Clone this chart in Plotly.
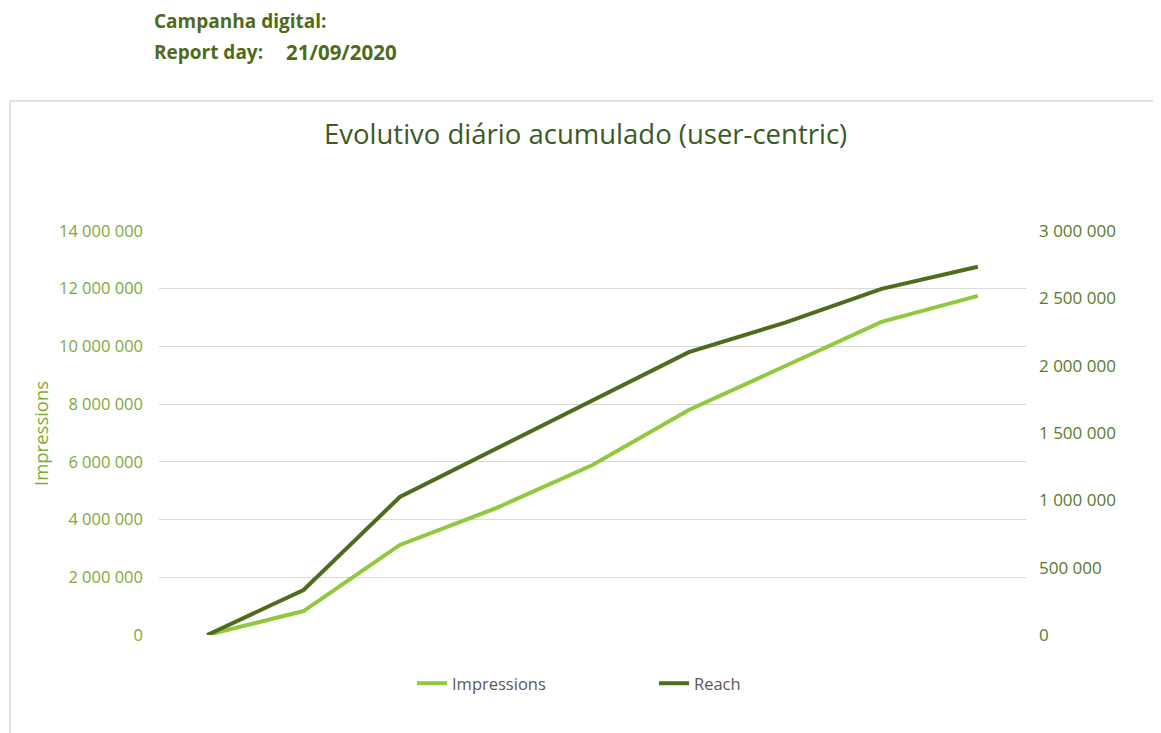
import plotly.graph_objects as go

# Data
days = ["D1", "D2", "D3", "D4", "D5", "D6", "D7", "D8", "D9"]
impressions = [0, 830000, 3120000, 4400000, 5890000, 7800000, 9320000, 10850000, 11750000]
reach = [0, 334000, 1025000, 1381000, 1745000, 2100000, 2320000, 2570000, 2735000]

left_ticks = [0, 2000000, 4000000, 6000000, 8000000, 10000000, 12000000, 14000000]
right_ticks = [0, 500000, 1000000, 1500000, 2000000, 2500000, 3000000]

LIGHT = "#92c83e"
DARK = "#4f6b1c"
HEAD = "#4f6b1a"

# page offset (body margin) and plot area in page pixels
OFF = 8
W, H = 1161 - OFF, 733 - OFF
PL, PR, PT, PB = 159, 1026, 231, 635
PW, PH = PR - PL, PB - PT


def px(x):
    return (x - PL) / PW


def py(y):
    return (PB - y) / PH


fig = go.Figure()
fig.add_trace(go.Scatter(x=days, y=impressions, name="Impressions", mode="lines",
                         line=dict(color=LIGHT, width=4), yaxis="y"))
fig.add_trace(go.Scatter(x=days, y=reach, name="Reach", mode="lines",
                         line=dict(color=DARK, width=4), yaxis="y2"))

font_main = "Open Sans, DejaVu Sans, sans-serif"

fig.update_layout(
    width=W, height=H,
    margin=dict(l=PL - OFF, r=W - (PR - OFF), t=PT - OFF, b=H - (PB - OFF)),
    paper_bgcolor="white", plot_bgcolor="white",
    separators=". ",
    showlegend=True,
    legend=dict(orientation="h", x=px(654), xanchor="center", y=py(666), yanchor="top",
                font=dict(family=font_main, size=16.5, color="#595959"),
                entrywidth=197, entrywidthmode="pixels", itemwidth=30),
    xaxis=dict(type="category", range=[-0.5, 8.5], showticklabels=False,
               showgrid=False, zeroline=False, showline=False, ticks=""),
    yaxis=dict(range=[0, 14000000], tickvals=left_ticks, tickformat=",d",
               showgrid=True, gridcolor="#d9d9d9", gridwidth=1, zeroline=False,
               showline=False, ticks="", ticklabelstandoff=15,
               tickfont=dict(family=font_main, size=16.5, color="#7fa83a")),
    yaxis2=dict(range=[0, 3000000], tickvals=right_ticks, tickformat=",d",
                overlaying="y", side="right", showgrid=False, zeroline=False,
                showline=False, ticks="", ticklabelstandoff=12,
                tickfont=dict(family=font_main, size=17, color="#5a7a2a")),
    annotations=[
        dict(text="<b>Campanha digital:</b>", xref="paper", yref="paper",
             x=px(152), y=py(21), xanchor="left", yanchor="middle",
             showarrow=False, font=dict(family=font_main, size=19, color=HEAD)),
        dict(text="<b>Report day:</b>", xref="paper", yref="paper",
             x=px(152), y=py(52), xanchor="left", yanchor="middle",
             showarrow=False, font=dict(family=font_main, size=19, color=HEAD)),
        dict(text="<b>21/09/2020</b>", xref="paper", yref="paper",
             x=px(284), y=py(52), xanchor="left", yanchor="middle",
             showarrow=False, font=dict(family=font_main, size=20.5, color=HEAD)),
        dict(text="Evolutivo diário acumulado (user-centric)", xref="paper", yref="paper",
             x=px(585), y=py(133), xanchor="center", yanchor="middle",
             showarrow=False, font=dict(family=font_main, size=27.5, color="#3b5a1f")),
        dict(text="Impressions", xref="paper", yref="paper", textangle=-90,
             x=px(40), y=py(433), xanchor="center", yanchor="middle",
             showarrow=False, font=dict(family=font_main, size=18.5, color="#7fa83a")),
    ],
    shapes=[
        dict(type="line", xref="paper", yref="paper",
             x0=px(10), x1=px(1161), y0=py(101), y1=py(101),
             line=dict(color="#d9d9d9", width=1.5)),
        dict(type="line", xref="paper", yref="paper",
             x0=px(10), x1=px(10), y0=py(101), y1=py(733),
             line=dict(color="#d9d9d9", width=1.5)),
    ],
)

fig.write_html("out.html")
